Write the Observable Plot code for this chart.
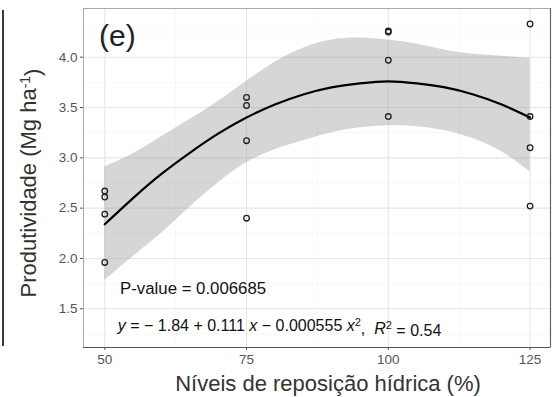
<!DOCTYPE html>
<html>
<head>
<meta charset="utf-8">
<script src="https://cdn.jsdelivr.net/npm/d3@7"></script>
<script src="https://cdn.jsdelivr.net/npm/@observablehq/plot@0.6"></script>
<style>
  html, body { margin: 0; padding: 0; background: #fff; }
  #chart { position: relative; width: 557px; height: 397px; }
  #edge { position: absolute; left: 2px; top: 10px; width: 2px; height: 336px; background: #3a3a3a; }
</style>
</head>
<body>
<div id="chart"><div id="edge"></div></div>
<script>
// Observed points (water replacement level %, yield Mg/ha)
const pointX = [50, 50, 50, 50, 75, 75, 75, 75, 100, 100, 100, 100, 125, 125, 125, 125];
const pointY = [2.67, 2.61, 2.44, 1.96, 3.60, 3.52, 3.17, 2.40, 4.25, 4.26, 3.97, 3.41, 4.33, 3.41, 3.10, 2.52];

// Fitted curve and confidence band
const fitX  = [50, 55, 60, 65, 70, 75, 80, 85, 90, 95, 100, 105, 110, 115, 120, 125];
const fitY  = [2.34, 2.60, 2.84, 3.05, 3.24, 3.40, 3.53, 3.63, 3.70, 3.74, 3.76, 3.74, 3.70, 3.63, 3.53, 3.40];
const bandLo = [1.78, 2.02, 2.25, 2.51, 2.75, 2.95, 3.08, 3.17, 3.25, 3.30, 3.32, 3.31, 3.27, 3.19, 3.06, 2.86];
const bandHi = [2.91, 3.04, 3.21, 3.38, 3.56, 3.76, 3.95, 4.09, 4.17, 4.19, 4.17, 4.13, 4.07, 4.03, 4.01, 3.99];

const xTicks = [50, 75, 100, 125];
const xMinor = [62.5, 87.5, 112.5];
const yTicks = [1.5, 2.0, 2.5, 3.0, 3.5, 4.0];
const yMinor = [1.25, 1.75, 2.25, 2.75, 3.25, 3.75, 4.25];
const xDomain = [46.25, 128.6];
const yDomain = [1.115, 4.484];

const panelLabel = "(e)";
const pText = "P-value = 0.006685";
const eqText = "y = \u2212 1.84 + 0.111 x \u2212 0.000555 x2,  R2 = 0.54";
const xTitle = "Níveis de reposição hídrica (%)";

const points = pointX.map((x, i) => ({x, y: pointY[i]}));
const fit = fitX.map((x, i) => ({x, y: fitY[i], lo: bandLo[i], hi: bandHi[i]}));

const font = "'Liberation Sans', Arial, sans-serif";

const plot = Plot.plot({
  width: 557,
  height: 397,
  marginLeft: 83,
  marginRight: 7,
  marginTop: 8,
  marginBottom: 50,
  style: {fontFamily: font, background: "#fff", overflow: "visible"},
  x: {domain: xDomain, ticks: xTicks, tickFormat: d => String(d), label: null, tickSize: 3},
  y: {domain: yDomain, ticks: yTicks, tickFormat: d => d.toFixed(1), label: null, tickSize: 3},
  marks: [
    Plot.gridX(xMinor, {stroke: "#f2f2f2", strokeOpacity: 1, strokeWidth: 0.6}),
    Plot.gridY(yMinor, {stroke: "#f2f2f2", strokeOpacity: 1, strokeWidth: 0.6}),
    Plot.gridX(xTicks, {stroke: "#e6e6e6", strokeOpacity: 1, strokeWidth: 1.1}),
    Plot.gridY(yTicks, {stroke: "#e6e6e6", strokeOpacity: 1, strokeWidth: 1.1}),
    Plot.areaY(fit, {x: "x", y1: "lo", y2: "hi", fill: "#999", fillOpacity: 0.4, curve: "natural"}),
    Plot.line(fit, {x: "x", y: "y", stroke: "#000", strokeWidth: 2.2, curve: "natural"}),
    Plot.dot(points, {x: "x", y: "y", r: 2.8, stroke: "#222", strokeWidth: 1.3, fill: "none"}),
    Plot.frame({stroke: "#aaa", strokeWidth: 1}),
    Plot.ruleY([yDomain[0]], {stroke: "#555", strokeWidth: 1.2}),
    Plot.ruleX([xDomain[1]], {stroke: "#666", strokeWidth: 1.2}),
    Plot.axisX({ticks: xTicks, tickFormat: d => String(d), tickSize: 3, stroke: "#555", fontSize: 13.5, fill: "#555", tickPadding: 4, label: null}),
    Plot.axisY({ticks: yTicks, tickFormat: d => d.toFixed(1), tickSize: 3, stroke: "#555", fontSize: 13.5, fill: "#555", tickPadding: 3, label: null}),
    Plot.text([panelLabel], {x: 49.0, y: 4.21, text: d => d, textAnchor: "start", fontSize: 30, fill: "#222"}),
    Plot.text([pText], {x: 52.7, y: 1.70, text: d => d, textAnchor: "start", fontSize: 16.8, fill: "#111"}),
    Plot.text([eqText], {x: 52.3, y: 1.326, text: d => d, textAnchor: "start", fontSize: 16, fill: "#111", className: "eq"})
  ]
});

document.getElementById("chart").appendChild(plot);
const svg = d3.select(plot);

// Rich formatting of the equation (italics, superscripts)
const eq = svg.select(".eq text");
if (!eq.empty()) {
  eq.text(null);
  const parts = [
    {t: "y", i: true}, {t: " = \u2212 1.84 + 0.111 "}, {t: "x", i: true},
    {t: " \u2212 0.000555 "}, {t: "x", i: true}, {t: "2", sup: true},
    {t: ",  "}, {t: "R", i: true}, {t: "2", sup: true}, {t: " = 0.54"}
  ];
  let prevSup = false;
  parts.forEach(p => {
    const ts = eq.append("tspan").text(p.t);
    if (p.i) ts.attr("font-style", "italic");
    if (p.sup) { ts.attr("dy", "-0.45em").attr("font-size", "11"); prevSup = true; }
    else if (prevSup) { ts.attr("dy", "0.45em"); prevSup = false; }
  });
}

// Axis titles
svg.append("text")
  .attr("x", 328).attr("y", 391)
  .attr("text-anchor", "middle")
  .attr("font-family", font).attr("font-size", 22).attr("fill", "#333")
  .text(xTitle);

const yt = svg.append("text")
  .attr("transform", "translate(36,183) rotate(-90)")
  .attr("text-anchor", "middle")
  .attr("font-family", font).attr("font-size", 22).attr("fill", "#333");
yt.append("tspan").text("Produtividade (Mg ha");
yt.append("tspan").text("-1").attr("dy", "-0.45em").attr("font-size", 14);
yt.append("tspan").text(")").attr("dy", "0.45em");
</script>
</body>
</html>
